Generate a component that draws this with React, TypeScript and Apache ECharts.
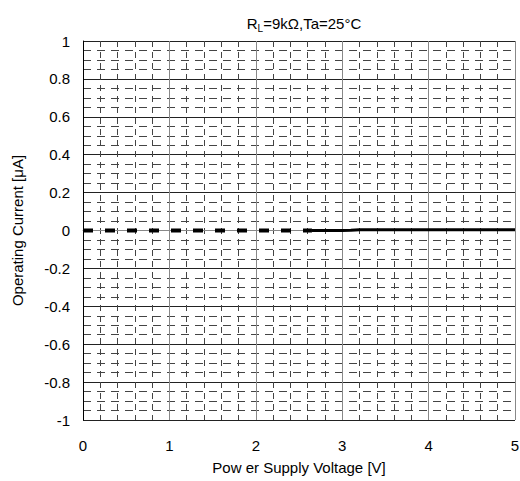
import React, { useEffect, useRef } from "react";
import * as echarts from "echarts";

const xTicks = [0, 1, 2, 3, 4, 5];
const yTicks = [-1, -0.8, -0.6, -0.4, -0.2, 0, 0.2, 0.4, 0.6, 0.8, 1];
const dashedVoltage = [0, 0.5, 1, 1.5, 2, 2.5, 2.65];
const dashedCurrent = [0, 0, 0, 0, 0, 0, 0];
const solidVoltage = [2.65, 3.0, 3.1, 3.2, 3.5, 4, 4.5, 5];
const solidCurrent = [0, 0, 0.001, 0.004, 0.004, 0.004, 0.004, 0.004];

const FONT = "'Liberation Sans', Arial, sans-serif";

export default function App() {
  const ref = useRef<HTMLDivElement>(null);
  useEffect(() => {
    const chart = echarts.init(ref.current!, null, { renderer: "svg" });
    chart.setOption({
      animation: false,
      textStyle: { fontFamily: FONT },
      title: {
        text: "{r|R}{s|L}{r|=9kΩ,Ta=25°C}",
        left: 299,
        textAlign: "center",
        top: 8,
        textStyle: {
          fontWeight: "normal",
          rich: {
            r: { fontSize: 15, color: "#000", fontFamily: FONT, fontWeight: "normal" },
            s: { fontSize: 10, color: "#000", fontFamily: FONT, fontWeight: "normal", padding: [10, 0, 0, 0] },
          },
        },
      },
      grid: { left: 83, right: 5, top: 41, bottom: 61, containLabel: false, outerBoundsMode: "none" },
      xAxis: {
        type: "value",
        min: 0,
        max: 5,
        interval: 1,
        name: "Pow er Supply Voltage [V]",
        nameLocation: "middle",
        nameGap: 40,
        nameTextStyle: { fontSize: 15, color: "#000", fontFamily: FONT },
        axisLine: { show: true, lineStyle: { color: "#888", width: 1 } },
        axisTick: { show: false },
        axisLabel: {
          fontSize: 15,
          color: "#000",
          margin: 18,
          fontFamily: FONT,
          formatter: (v: number) => (xTicks.includes(v) ? String(v) : ""),
        },
        splitLine: { show: true, lineStyle: { color: "#888", width: 1 } },
        minorTick: { show: false, splitNumber: 5 },
        minorSplitLine: { show: true, lineStyle: { color: "#444", width: 1, type: [6, 5] } },
      },
      yAxis: {
        type: "value",
        min: -1,
        max: 1,
        interval: 0.2,
        name: "Operating Current [μA]",
        nameLocation: "middle",
        nameGap: 58,
        nameTextStyle: { fontSize: 15, color: "#000", fontFamily: FONT },
        axisLine: { show: true, lineStyle: { color: "#000", width: 1 } },
        axisTick: { show: false },
        axisLabel: {
          fontSize: 15,
          color: "#000",
          margin: 13,
          fontFamily: FONT,
          formatter: (v: number) => {
            const r = Math.round(v * 10) / 10;
            return yTicks.includes(r) ? String(r) : "";
          },
        },
        splitLine: { show: true, lineStyle: { color: "#222", width: 1 } },
        minorTick: { show: false, splitNumber: 4 },
        minorSplitLine: { show: true, lineStyle: { color: "#444", width: 1, type: [8, 6] } },
      },
      series: [
        {
          type: "line",
          data: dashedVoltage.map((v, i) => [v, dashedCurrent[i]]),
          showSymbol: false,
          lineStyle: { color: "#000", width: 4, type: [10, 12] },
        },
        {
          type: "line",
          data: solidVoltage.map((v, i) => [v, solidCurrent[i]]),
          showSymbol: false,
          lineStyle: { color: "#000", width: 3 },
        },
      ],
    });
    return () => chart.dispose();
  }, []);
  return <div ref={ref} style={{ width: 520, height: 481, position: "absolute", left: 0, top: 0, background: "#fff" }} />;
}
